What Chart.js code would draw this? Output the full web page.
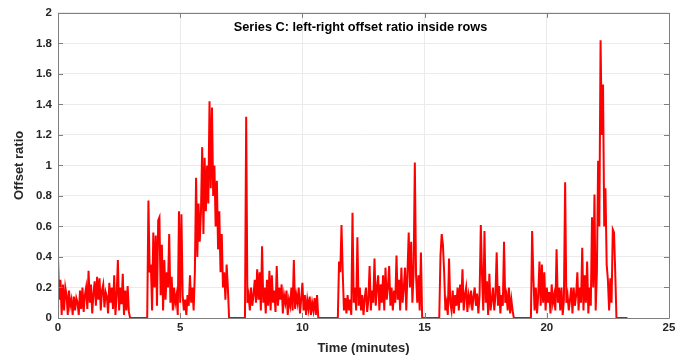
<!DOCTYPE html>
<html>
<head>
<meta charset="utf-8">
<title>Series C offset ratio</title>
<script src="https://cdn.jsdelivr.net/npm/chart.js@4.4.1/dist/chart.umd.min.js"></script>
<style>
  html, body { margin: 0; padding: 0; background: #ffffff; }
  canvas { display: block; }
</style>
</head>
<body>
<canvas id="offsetChart" width="694" height="356"></canvas>
<script>
// Sampling interval of the recording (minutes)
const sampleStep = 0.05;

// Each recorded run: start time (minutes) and the offset ratio samples that follow
const segmentStarts = [0.00, 3.65, 7.65, 11.45, 15.60, 19.35];

const run1 = [
    0.40, 0.12, 0.25, 0.02, 0.22, 0.05, 0.20, 0.15, 0.02, 0.18,
    0.08, 0.12, 0.02, 0.14, 0.05, 0.13, 0.10, 0.02, 0.18, 0.06,
    0.20, 0.04, 0.15, 0.20, 0.06, 0.31, 0.10, 0.22, 0.03, 0.16,
    0.24, 0.08, 0.27, 0.12, 0.26, 0.05, 0.18, 0.22, 0.07, 0.17,
    0.14, 0.03, 0.23, 0.10, 0.20, 0.06, 0.28, 0.02, 0.15, 0.38,
    0.05, 0.20, 0.09, 0.29, 0.02, 0.18, 0.05, 0.21, 0.04, 0
];
const run2 = [
    0,
    0.77, 0.30, 0.35, 0.05, 0.56, 0.20, 0.54, 0.08, 0.64, 0.66,
    0.15, 0.48, 0.05, 0.38, 0.12, 0.30, 0.20, 0.55, 0.10, 0.27,
    0.05, 0.20, 0.10, 0.15, 0.02, 0.70, 0.10, 0.68, 0.15, 0.05,
    0.12, 0.02, 0.15, 0.08, 0.28, 0.10, 0.20, 0.05, 0.30, 0.92,
    0.40, 0.75, 0.50, 0.70, 1.12, 0.55, 1.05, 0.70, 1.00, 0.75,
    1.42, 0.85, 1.38, 0.80, 1.00, 0.60, 0.90, 0.45, 0.70, 0.30,
    0.55, 0.20, 0.30, 0.12, 0.35, 0.20,
    0
];
const run3 = [
    0,
    1.32, 0.10, 0.15, 0.05, 0.20, 0.08, 0.15, 0.25, 0.10, 0.32,
    0.12, 0.30, 0.05, 0.47, 0.10, 0.20, 0.03, 0.25, 0.08, 0.31,
    0.05, 0.28, 0.10, 0.18, 0.04, 0.34, 0.08, 0.20, 0.12, 0.22,
    0.03, 0.15, 0.10, 0.18, 0.02, 0.12, 0.08, 0.20, 0.05, 0.38,
    0.06, 0.15, 0.10, 0.20, 0.03, 0.12, 0.23, 0.05, 0.15, 0.02,
    0.12, 0.06, 0.14, 0.02, 0.10, 0.05, 0.13, 0.02, 0.15,
    0
];
const run4 = [
    0,
    0.37, 0.30, 0.61, 0.30, 0.05, 0.13, 0.03, 0.15, 0.05, 0.12,
    0.02, 0.69, 0.10, 0.20, 0.05, 0.53, 0.08, 0.20, 0.05, 0.15,
    0.02, 0.13, 0.20, 0.04, 0.12, 0.34, 0.05, 0.18, 0.10, 0.39,
    0.08, 0.20, 0.28, 0.05, 0.22, 0.10, 0.28, 0.05, 0.33, 0.12,
    0.20, 0.34, 0.08, 0.20, 0.05, 0.18, 0.10, 0.41, 0.12, 0.25,
    0.05, 0.33, 0.10, 0.20, 0.33, 0.05, 0.30, 0.56, 0.20, 0.50,
    0.10, 0.30, 1.02, 0.28, 0.10, 0.28, 0.05, 0.43,
    0
];
const run5 = [
    0,
    0.41, 0.55, 0.48, 0.30, 0.05, 0.10, 0.02, 0.39, 0.10, 0.05,
    0.18, 0.03, 0.15, 0.08, 0.20, 0.05, 0.22, 0.10, 0.32, 0.05,
    0.15, 0.20, 0.04, 0.15, 0.10, 0.18, 0.05, 0.14, 0.20, 0.08,
    0.16, 0.03, 0.15, 0.61, 0.28, 0.05, 0.57, 0.10, 0.24, 0.02,
    0.29, 0.05, 0.12, 0.20, 0.05, 0.15, 0.43, 0.08, 0.21, 0.03,
    0.15, 0.08, 0.50, 0.10, 0.15, 0.05, 0.20, 0.03, 0.12, 0.05,
    0
];
const run6 = [
    0,
    0.57, 0.27, 0.05, 0.20, 0.03, 0.15, 0.37, 0.08, 0.35, 0.10,
    0.30, 0.05, 0.20, 0.10, 0.17, 0.03, 0.22, 0.10, 0.15, 0.05,
    0.45, 0.10, 0.20, 0.05, 0.20, 0.02, 0.12, 0.89, 0.10, 0.15,
    0.05, 0.12, 0.20, 0.03, 0.20, 0.08, 0.15, 0.30, 0.05, 0.20,
    0.10, 0.46, 0.05, 0.28, 0.10, 0.37, 0.03, 0.20, 0.08, 0.66,
    0.20, 0.81, 0.05, 0.30, 1.03, 0.60, 1.82, 1.20, 1.53, 0.60,
    0.85, 0.35, 0.25, 0.05, 0.26, 0.10, 0.58, 0.56, 0.30,
    0, 0, 0, 0, 0, 0, 0, 0, 0, 0
];
const runs = [run1, run2, run3, run4, run5, run6];

// Axis ranges and ticks
const xTicks = [0, 5, 10, 15, 20, 25];
const yTicks = [0, 0.2, 0.4, 0.6, 0.8, 1, 1.2, 1.4, 1.6, 1.8, 2];

const labelFont = { family: "'Liberation Sans', Arial, sans-serif", size: 11.5, weight: 'bold' };
const titleFont = { family: "'Liberation Sans', Arial, sans-serif", size: 13, weight: 'bold' };
const textColor = '#262626';
const boxColor = '#7f7f7f';

// Build the point list, runs joined by the flat zero stretches between them
const points = [];
runs.forEach((vals, r) => {
    vals.forEach((v, i) => {
        points.push({ x: +(segmentStarts[r] + i * sampleStep).toFixed(2), y: v });
    });
});

// MATLAB style frame: full box with inward tick marks and title inside the axes
const boxPlugin = {
    id: 'boxFrame',
    afterDraw(chart) {
        const { ctx, chartArea: a, scales: { x, y } } = chart;
        const len = 5;
        ctx.save();
        ctx.strokeStyle = boxColor;
        ctx.lineWidth = 1;
        ctx.beginPath();
        ctx.rect(Math.round(a.left) + 0.5, Math.round(a.top) + 0.5,
                 Math.round(a.right - a.left), Math.round(a.bottom - a.top));
        xTicks.forEach(t => {
            const px = Math.round(x.getPixelForValue(t)) + 0.5;
            ctx.moveTo(px, a.bottom); ctx.lineTo(px, a.bottom - len);
            ctx.moveTo(px, a.top); ctx.lineTo(px, a.top + len);
        });
        yTicks.forEach(t => {
            const py = Math.round(y.getPixelForValue(t)) + 0.5;
            ctx.moveTo(a.left, py); ctx.lineTo(a.left + len, py);
            ctx.moveTo(a.right, py); ctx.lineTo(a.right - len, py);
        });
        ctx.stroke();

        ctx.fillStyle = '#000000';
        ctx.font = `bold 12.75px ${titleFont.family}`;
        ctx.textAlign = 'center';
        ctx.textBaseline = 'middle';
        ctx.fillText('Series C: left-right offset ratio inside rows', (a.left + a.right) / 2 - 3, 27);
        ctx.restore();
    }
};

const ctx = document.getElementById('offsetChart').getContext('2d');
new Chart(ctx, {
    type: 'line',
    data: {
        datasets: [{
            data: points,
            borderColor: '#ff0000',
            borderWidth: 2,
            pointRadius: 0,
            tension: 0,
            fill: false
        }]
    },
    options: {
        responsive: false,
        animation: false,
        parsing: false,
        layout: { padding: { top: 10, right: 25, left: 0, bottom: 0 } },
        plugins: {
            legend: { display: false },
            tooltip: { enabled: false }
        },
        scales: {
            x: {
                type: 'linear',
                min: 0,
                max: 25,
                afterBuildTicks: s => { s.ticks = xTicks.map(v => ({ value: v })); },
                ticks: { color: textColor, font: labelFont, padding: 3, maxRotation: 0 },
                grid: { color: '#ebebeb', drawTicks: false },
                border: { display: false },
                title: { display: true, text: 'Time (minutes)', color: textColor, font: titleFont, padding: { top: 5, bottom: 0 } },
                afterFit: s => { s.height = 38; }
            },
            y: {
                min: 0,
                max: 2,
                afterBuildTicks: s => { s.ticks = yTicks.map(v => ({ value: v })); },
                ticks: { color: textColor, font: labelFont, padding: 6, callback: v => String(+v.toFixed(1)) },
                grid: { color: '#ebebeb', drawTicks: false },
                border: { display: false },
                title: { display: true, text: 'Offset ratio', color: textColor, font: titleFont, padding: { top: 12, bottom: 0 } },
                afterFit: s => { s.width = 58; }
            }
        }
    },
    plugins: [boxPlugin]
});
</script>
</body>
</html>
